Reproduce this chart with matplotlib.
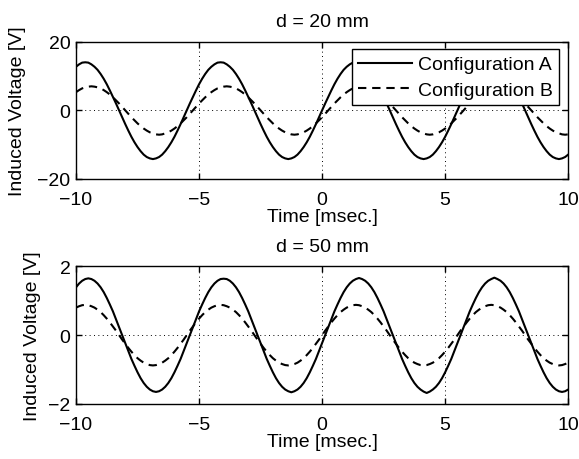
import numpy as np
import matplotlib
matplotlib.use("Agg")
import matplotlib.pyplot as plt

plt.rcParams['font.family'] = ['Liberation Sans', 'DejaVu Sans']
plt.rcParams['axes.unicode_minus'] = True

# Sample times (ms): one sample every 0.125 ms from -10 to 10 (161 samples)
time_ms = np.linspace(-10, 10, 161)

# d = 20 mm (V)
d20_config_a = [
    12.7, 13.4, 13.9, 14.0, 13.9, 13.4, 12.7, 11.8, 10.6, 9.2, 7.6, 5.8, 3.9, 2.0, 0.0, -2.0, -4.0, -5.9, -7.7, -9.3, -10.7, -11.9,
    -12.9, -13.6, -14.0, -14.2, -14.0, -13.6, -12.9, -11.9, -10.7, -9.3, -7.7, -5.9, -4.0, -2.0, 0.0, 2.0, 3.9, 5.8, 7.6, 9.2, 10.6, 11.8,
    12.7, 13.4, 13.9, 14.0, 13.9, 13.4, 12.7, 11.8, 10.6, 9.2, 7.6, 5.8, 3.9, 2.0, 0.0, -2.0, -4.0, -5.9, -7.7, -9.3, -10.7, -11.9,
    -12.9, -13.6, -14.0, -14.2, -14.0, -13.6, -12.9, -11.9, -10.7, -9.3, -7.7, -5.9, -4.0, -2.0, 0.0, 2.0, 3.9, 5.8, 7.6, 9.2, 10.6, 11.8,
    12.7, 13.4, 13.9, 14.0, 13.9, 13.4, 12.7, 11.8, 10.6, 9.2, 7.6, 5.8, 3.9, 2.0, 0.0, -2.0, -4.0, -5.9, -7.7, -9.3, -10.7, -11.9,
    -12.9, -13.6, -14.0, -14.2, -14.0, -13.6, -12.9, -11.9, -10.7, -9.3, -7.7, -5.9, -4.0, -2.0, 0.0, 2.0, 3.9, 5.8, 7.6, 9.2, 10.6, 11.8,
    12.7, 13.4, 13.9, 14.0, 13.9, 13.4, 12.7, 11.8, 10.6, 9.2, 7.6, 5.8, 3.9, 2.0, 0.0, -2.0, -4.0, -5.9, -7.7, -9.3, -10.7, -11.9,
    -12.9, -13.6, -14.0, -14.2, -14.0, -13.6, -12.9,
]
d20_config_b = [
    5.3, 5.9, 6.4, 6.7, 6.9, 7.0, 6.9, 6.7, 6.4, 5.9, 5.3, 4.6, 3.8, 2.9, 2.0, 1.0, 0.0, -1.0, -2.0, -2.9, -3.8, -4.6,
    -5.3, -5.9, -6.4, -6.7, -7.0, -7.1, -7.0, -6.7, -6.4, -5.9, -5.3, -4.6, -3.8, -2.9, -2.0, -1.0, 0.0, 1.0, 2.0, 2.9, 3.8, 4.6,
    5.3, 5.9, 6.4, 6.7, 6.9, 7.0, 6.9, 6.7, 6.4, 5.9, 5.3, 4.6, 3.8, 2.9, 2.0, 1.0, 0.0, -1.0, -2.0, -2.9, -3.8, -4.6,
    -5.3, -5.9, -6.4, -6.7, -7.0, -7.1, -7.0, -6.7, -6.4, -5.9, -5.3, -4.6, -3.8, -2.9, -2.0, -1.0, 0.0, 1.0, 2.0, 2.9, 3.8, 4.6,
    5.3, 5.9, 6.4, 6.7, 6.9, 7.0, 6.9, 6.7, 6.4, 5.9, 5.3, 4.6, 3.8, 2.9, 2.0, 1.0, 0.0, -1.0, -2.0, -2.9, -3.8, -4.6,
    -5.3, -5.9, -6.4, -6.7, -7.0, -7.1, -7.0, -6.7, -6.4, -5.9, -5.3, -4.6, -3.8, -2.9, -2.0, -1.0, 0.0, 1.0, 2.0, 2.9, 3.8, 4.6,
    5.3, 5.9, 6.4, 6.7, 6.9, 7.0, 6.9, 6.7, 6.4, 5.9, 5.3, 4.6, 3.8, 2.9, 2.0, 1.0, 0.0, -1.0, -2.0, -2.9, -3.8, -4.6,
    -5.3, -5.9, -6.4, -6.7, -7.0, -7.1, -7.0,
]

# d = 50 mm (V)
d50_config_a = [
    1.39, 1.50, 1.58, 1.63, 1.65, 1.63, 1.58, 1.50, 1.39, 1.25, 1.08, 0.89, 0.69, 0.46, 0.23, 0.00, -0.23, -0.46, -0.69, -0.89, -1.08, -1.25,
    -1.39, -1.50, -1.58, -1.63, -1.65, -1.63, -1.58, -1.50, -1.39, -1.25, -1.08, -0.89, -0.69, -0.46, -0.23, 0.00, 0.23, 0.46, 0.69, 0.89, 1.08, 1.25,
    1.39, 1.50, 1.58, 1.63, 1.64, 1.63, 1.58, 1.50, 1.39, 1.25, 1.08, 0.89, 0.69, 0.46, 0.23, 0.00, -0.23, -0.46, -0.69, -0.89, -1.08, -1.25,
    -1.39, -1.50, -1.58, -1.63, -1.66, -1.63, -1.58, -1.50, -1.39, -1.25, -1.08, -0.89, -0.69, -0.46, -0.23, 0.00, 0.23, 0.46, 0.69, 0.89, 1.08, 1.25,
    1.39, 1.50, 1.58, 1.63, 1.66, 1.63, 1.58, 1.50, 1.39, 1.25, 1.08, 0.89, 0.69, 0.46, 0.23, 0.00, -0.23, -0.46, -0.69, -0.89, -1.08, -1.25,
    -1.39, -1.50, -1.58, -1.64, -1.68, -1.64, -1.58, -1.50, -1.39, -1.25, -1.08, -0.89, -0.69, -0.46, -0.23, 0.00, 0.23, 0.46, 0.69, 0.89, 1.08, 1.25,
    1.39, 1.50, 1.58, 1.63, 1.67, 1.63, 1.58, 1.50, 1.39, 1.25, 1.08, 0.89, 0.69, 0.46, 0.23, 0.00, -0.23, -0.46, -0.69, -0.89, -1.08, -1.25,
    -1.39, -1.50, -1.58, -1.63, -1.65, -1.63, -1.58,
]
d50_config_b = [
    0.80, 0.84, 0.87, 0.88, 0.87, 0.84, 0.80, 0.74, 0.67, 0.58, 0.48, 0.37, 0.25, 0.13, 0.00, -0.13, -0.25, -0.37, -0.48, -0.58, -0.67, -0.74,
    -0.80, -0.84, -0.87, -0.88, -0.87, -0.84, -0.80, -0.74, -0.67, -0.58, -0.48, -0.37, -0.25, -0.13, 0.00, 0.13, 0.25, 0.37, 0.48, 0.58, 0.67, 0.74,
    0.80, 0.84, 0.87, 0.88, 0.87, 0.84, 0.80, 0.74, 0.67, 0.58, 0.48, 0.37, 0.25, 0.13, 0.00, -0.13, -0.25, -0.37, -0.48, -0.58, -0.67, -0.74,
    -0.80, -0.84, -0.87, -0.88, -0.87, -0.84, -0.80, -0.74, -0.67, -0.58, -0.48, -0.37, -0.25, -0.13, 0.00, 0.13, 0.25, 0.37, 0.48, 0.58, 0.67, 0.74,
    0.80, 0.84, 0.87, 0.88, 0.87, 0.84, 0.80, 0.74, 0.67, 0.58, 0.48, 0.37, 0.25, 0.13, 0.00, -0.13, -0.25, -0.37, -0.48, -0.58, -0.67, -0.74,
    -0.80, -0.84, -0.87, -0.88, -0.87, -0.84, -0.80, -0.74, -0.67, -0.58, -0.48, -0.37, -0.25, -0.13, 0.00, 0.13, 0.25, 0.37, 0.48, 0.58, 0.67, 0.74,
    0.80, 0.84, 0.87, 0.88, 0.87, 0.84, 0.80, 0.74, 0.67, 0.58, 0.48, 0.37, 0.25, 0.13, 0.00, -0.13, -0.25, -0.37, -0.48, -0.58, -0.67, -0.74,
    -0.80, -0.84, -0.87, -0.88, -0.87, -0.84, -0.80,
]

titles = ["d = 20 mm", "d = 50 mm"]
series_names = ["Configuration A", "Configuration B"]
x_ticks = [-10, -5, 0, 5, 10]
y_ticks_top = [-20, 0, 20]
y_ticks_bottom = [-2, 0, 2]
xlabel = "Time [msec.]"
ylabel = "Induced Voltage [V]"

FS = 14
fig = plt.figure(figsize=(5.79, 4.60), dpi=100)
ax1 = fig.add_axes([0.1313, 0.6087, 0.850, 0.2985])
ax2 = fig.add_axes([0.1313, 0.1196, 0.850, 0.2993])

panels = [
    (ax1, d20_config_a, d20_config_b, titles[0], y_ticks_top, -0.102),
    (ax2, d50_config_a, d50_config_b, titles[1], y_ticks_bottom, -0.072),
]

for ax, ya, yb, title, yt, ylab_x in panels:
    la, = ax.plot(time_ms, ya, color='black', lw=1.5, solid_joinstyle='round')
    lb, = ax.plot(time_ms, yb, color='black', lw=1.5, dashes=(4, 2.8))
    ax.set_xlim(-10, 10)
    ax.set_ylim(yt[0], yt[-1])
    ax.set_xticks(x_ticks)
    ax.set_yticks(yt)
    ax.grid(True, color='black', linestyle=(0, (1, 3.5)), linewidth=0.7)
    ax.tick_params(direction='in', length=4.5, width=1.0, top=True, right=True,
                   labelsize=FS, colors='black')
    ax.tick_params(axis='x', pad=9)
    ax.tick_params(axis='y', pad=4)
    for s in ax.spines.values():
        s.set_linewidth(1.0)
    ax.set_title(title, fontsize=FS, pad=11)
    ax.set_xlabel(xlabel, fontsize=FS, labelpad=0)
    ax.set_ylabel(ylabel, fontsize=FS)
    ax.yaxis.set_label_coords(ylab_x, 0.5)
    if ax is ax1:
        leg = ax.legend([la, lb], series_names, loc='upper right',
                        bbox_to_anchor=(0.982, 0.947), borderaxespad=0,
                        fontsize=FS, frameon=True, fancybox=False,
                        handlelength=2.75, handletextpad=0.3, labelspacing=0.39,
                        borderpad=0.35)
        leg.get_frame().set_edgecolor('black')
        leg.get_frame().set_linewidth(1.0)
        leg.get_frame().set_alpha(1)

fig.savefig("out.png", dpi=100)
